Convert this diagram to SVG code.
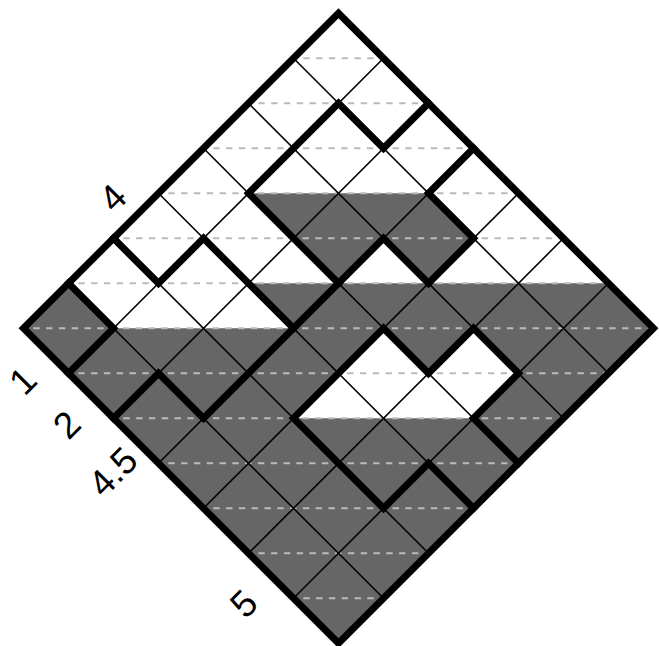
<svg xmlns="http://www.w3.org/2000/svg" width="659" height="646" viewBox="0 0 659 646">
<style>
.water{fill:#666666;stroke:none}
.dash{stroke:#bbbbbb;stroke-width:2;stroke-dasharray:6.4 6.4;stroke-dashoffset:3;fill:none}
.thin{stroke:#000;stroke-width:1.6;fill:none}
.wall{stroke:#000;stroke-width:7;fill:none;stroke-linejoin:miter;stroke-linecap:square}
.lbl{font-family:"Liberation Sans",Arial,sans-serif;font-size:37px;fill:#000;text-anchor:middle;dominant-baseline:central}
</style>
<rect width="659" height="646" fill="#ffffff"/>
<g id="water">
<polygon class="water" points="68.5,283.3 113.5,328.3 68.5,373.3 23.5,328.3"/>
<polygon class="water" points="248.5,193.3 428.5,193.3 473.5,238.3 428.5,283.3 383.5,238.3 338.5,283.3"/>
<path class="water" fill-rule="evenodd" d="M68.5,373.3 L113.5,328.3 L293.5,328.3 L248.5,283.3 L608.5,283.3 L653.5,328.3 L338.5,643.3 Z M338.5,373.3 L383.5,328.3 L428.5,373.3 L473.5,328.3 L518.5,373.3 L473.5,418.3 L293.5,418.3 Z"/>
</g>
<g id="levels">
<line class="dash" x1="293.5" y1="58.3" x2="383.5" y2="58.3"/>
<line class="dash" x1="248.5" y1="103.3" x2="428.5" y2="103.3"/>
<line class="dash" x1="203.5" y1="148.3" x2="473.5" y2="148.3"/>
<line class="dash" x1="158.5" y1="193.3" x2="518.5" y2="193.3"/>
<line class="dash" x1="113.5" y1="238.3" x2="563.5" y2="238.3"/>
<line class="dash" x1="68.5" y1="283.3" x2="608.5" y2="283.3"/>
<line class="dash" x1="23.5" y1="328.3" x2="653.5" y2="328.3"/>
<line class="dash" x1="68.5" y1="373.3" x2="608.5" y2="373.3"/>
<line class="dash" x1="113.5" y1="418.3" x2="563.5" y2="418.3"/>
<line class="dash" x1="158.5" y1="463.3" x2="518.5" y2="463.3"/>
<line class="dash" x1="203.5" y1="508.3" x2="473.5" y2="508.3"/>
<line class="dash" x1="248.5" y1="553.3" x2="428.5" y2="553.3"/>
<line class="dash" x1="293.5" y1="598.3" x2="383.5" y2="598.3"/>
</g>
<g id="grid">
<line class="thin" x1="293.5" y1="58.3" x2="608.5" y2="373.3"/>
<line class="thin" x1="248.5" y1="103.3" x2="563.5" y2="418.3"/>
<line class="thin" x1="203.5" y1="148.3" x2="518.5" y2="463.3"/>
<line class="thin" x1="158.5" y1="193.3" x2="473.5" y2="508.3"/>
<line class="thin" x1="113.5" y1="238.3" x2="428.5" y2="553.3"/>
<line class="thin" x1="68.5" y1="283.3" x2="383.5" y2="598.3"/>
<line class="thin" x1="383.5" y1="58.3" x2="68.5" y2="373.3"/>
<line class="thin" x1="428.5" y1="103.3" x2="113.5" y2="418.3"/>
<line class="thin" x1="473.5" y1="148.3" x2="158.5" y2="463.3"/>
<line class="thin" x1="518.5" y1="193.3" x2="203.5" y2="508.3"/>
<line class="thin" x1="563.5" y1="238.3" x2="248.5" y2="553.3"/>
<line class="thin" x1="608.5" y1="283.3" x2="293.5" y2="598.3"/>
</g>
<g id="walls">
<polyline class="wall" points="428.5,103.3 383.5,148.3 338.5,103.3 248.5,193.3 338.5,283.3 383.5,238.3 428.5,283.3 473.5,238.3 428.5,193.3 473.5,148.3"/>
<polyline class="wall" points="338.5,283.3 203.5,418.3 158.5,373.3 113.5,418.3"/>
<polyline class="wall" points="113.5,238.3 158.5,283.3 203.5,238.3 293.5,328.3"/>
<polyline class="wall" points="68.5,283.3 113.5,328.3 68.5,373.3"/>
<polyline class="wall" points="518.5,463.3 473.5,418.3 518.5,373.3 473.5,328.3 428.5,373.3 383.5,328.3 293.5,418.3 383.5,508.3 428.5,463.3 473.5,508.3"/>
<polygon class="wall" points="338.5,13.3 653.5,328.3 338.5,643.3 23.5,328.3"/>
</g>
<g id="labels">
<text class="lbl" transform="rotate(-45 113 198)" x="113" y="198">4</text>
<text class="lbl" transform="rotate(-45 23 381)" x="23" y="381">1</text>
<text class="lbl" transform="rotate(-45 67 425)" x="67" y="425">2</text>
<text class="lbl" transform="rotate(-45 113 472)" x="113" y="472">4.5</text>
<text class="lbl" transform="rotate(-45 244 604)" x="244" y="604">5</text>
</g>
</svg>
